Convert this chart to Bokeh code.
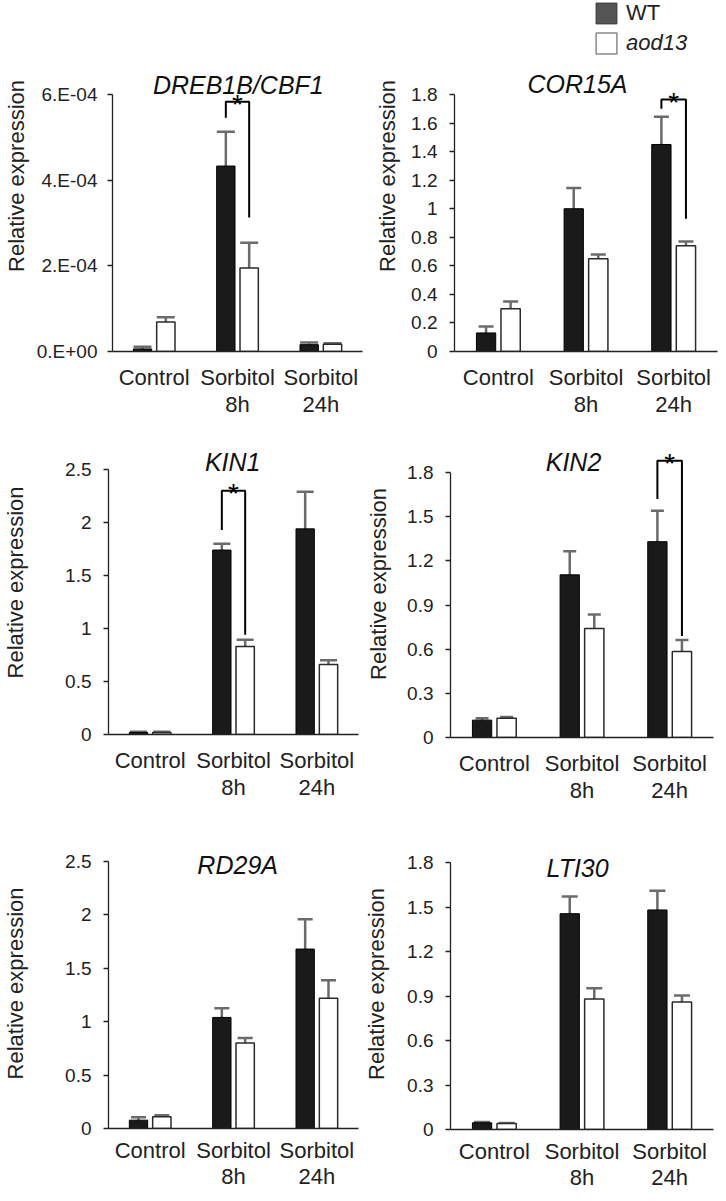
from bokeh.plotting import figure
from bokeh.models import (FactorRange, Range1d, FixedTicker, Whisker, TeeHead,
                          Legend, LegendItem, ColumnDataSource)
from bokeh.transform import dodge
from bokeh.layouts import column, row
from bokeh.core.properties import value
from bokeh.embed import file_html
from bokeh.resources import INLINE

# ---------------- data ----------------
categories = ["Control", "Sorbitol\n8h", "Sorbitol\n24h"]
series_names = ["WT", "aod13"]
y_title = "Relative expression"

dreb_wt = [0.06e-4, 4.33e-4, 0.16e-4]
dreb_wt_err = [0.05e-4, 0.80e-4, 0.05e-4]
dreb_aod = [0.69e-4, 1.95e-4, 0.17e-4]
dreb_aod_err = [0.11e-4, 0.59e-4, 0.02e-4]
dreb_ticks = [0.0, 2e-4, 4e-4, 6e-4]
dreb_tick_labels = ["0.E+00", "2.E-04", "4.E-04", "6.E-04"]
dreb_sig = ["Sorbitol\n8h", 5.46e-4, 5.83e-4, 3.13e-4]

cor_wt = [0.13, 1.00, 1.45]
cor_wt_err = [0.045, 0.145, 0.195]
cor_aod = [0.30, 0.65, 0.74]
cor_aod_err = [0.05, 0.03, 0.03]
cor_ticks = [0.0, 0.2, 0.4, 0.6, 0.8, 1.0, 1.2, 1.4, 1.6, 1.8]
cor_tick_labels = ["0", "0.2", "0.4", "0.6", "0.8", "1", "1.2", "1.4", "1.6", "1.8"]
cor_sig = ["Sorbitol\n24h", 1.70, 1.765, 0.93]

kin1_wt = [0.02, 1.74, 1.94]
kin1_wt_err = [0.005, 0.06, 0.35]
kin1_aod = [0.02, 0.83, 0.66]
kin1_aod_err = [0.005, 0.065, 0.04]
kin1_ticks = [0.0, 0.5, 1.0, 1.5, 2.0, 2.5]
kin1_tick_labels = ["0", "0.5", "1", "1.5", "2", "2.5"]
kin1_sig = ["Sorbitol\n8h", 1.93, 2.30, 0.94]

kin2_wt = [0.118, 1.105, 1.33]
kin2_wt_err = [0.012, 0.16, 0.21]
kin2_aod = [0.13, 0.74, 0.585]
kin2_aod_err = [0.01, 0.095, 0.078]
kin2_ticks = [0.0, 0.3, 0.6, 0.9, 1.2, 1.5, 1.8]
kin2_tick_labels = ["0", "0.3", "0.6", "0.9", "1.2", "1.5", "1.8"]
kin2_sig = ["Sorbitol\n24h", 1.62, 1.88, 0.69]

rd_wt = [0.078, 1.04, 1.68]
rd_wt_err = [0.028, 0.087, 0.28]
rd_aod = [0.109, 0.80, 1.22]
rd_aod_err = [0.016, 0.047, 0.168]
rd_ticks = [0.0, 0.5, 1.0, 1.5, 2.0, 2.5]
rd_tick_labels = ["0", "0.5", "1", "1.5", "2", "2.5"]

lti_wt = [0.045, 1.455, 1.48]
lti_wt_err = [0.005, 0.115, 0.13]
lti_aod = [0.04, 0.88, 0.86]
lti_aod_err = [0.004, 0.073, 0.043]
lti_ticks = [0.0, 0.3, 0.6, 0.9, 1.2, 1.5, 1.8]
lti_tick_labels = ["0", "0.3", "0.6", "0.9", "1.2", "1.5", "1.8"]

# ---------------- style ----------------
FONT = "Liberation Sans"
INK = "#222222"
ERR = "#6b6b6b"
WT_FILL = "#1a1a1a"
OFF = 0.14
BAR_W = 0.22
NAN = float("nan")

panels = [
    dict(title="DREB1B/CBF1", wt=dreb_wt, wt_err=dreb_wt_err, aod=dreb_aod, aod_err=dreb_aod_err,
         ticks=dreb_ticks, labels=dreb_tick_labels, sig=dreb_sig,
         bl=104, fw=250, br=1, fh=351, bb=79, top_off=94, cap=18, tdx=0.01, tdy=10, ts=10, ls=5,
         xs=13, xlh=1.1),
    dict(title="COR15A", wt=cor_wt, wt_err=cor_wt_err, aod=cor_aod, aod_err=cor_aod_err,
         ticks=cor_ticks, labels=cor_tick_labels, sig=cor_sig,
         bl=91, fw=263, br=1, fh=351, bb=79, top_off=94, cap=15, tdx=-0.097, tdy=11, ts=12, ls=8,
         xs=13, xlh=1.1),
    dict(title="KIN1", wt=kin1_wt, wt_err=kin1_wt_err, aod=kin1_aod, aod_err=kin1_aod_err,
         ticks=kin1_ticks, labels=kin1_tick_labels, sig=kin1_sig,
         bl=104, fw=250, br=1, fh=304, bb=104, top_off=39, cap=17, tdx=-0.01, tdy=8, ts=12, ls=34,
         xs=13, xlh=1.1),
    dict(title="KIN2", wt=kin2_wt, wt_err=kin2_wt_err, aod=kin2_aod, aod_err=kin2_aod_err,
         ticks=kin2_ticks, labels=kin2_tick_labels, sig=kin2_sig,
         bl=91, fw=263, br=1, fh=307, bb=101, top_off=42, cap=13, tdx=-0.097, tdy=11, ts=12, ls=13,
         xs=13, xlh=1.1),
    dict(title="RD29A", wt=rd_wt, wt_err=rd_wt_err, aod=rd_aod, aod_err=rd_aod_err,
         ticks=rd_ticks, labels=rd_tick_labels, sig=None,
         bl=104, fw=250, br=1, fh=290, bb=57, top_off=23, cap=15, tdx=0.05, tdy=-3, ts=12, ls=34,
         xs=9, xlh=1.05),
    dict(title="LTI30", wt=lti_wt, wt_err=lti_wt_err, aod=lti_aod, aod_err=lti_aod_err,
         ticks=lti_ticks, labels=lti_tick_labels, sig=None,
         bl=91, fw=263, br=1, fh=291, bb=56, top_off=24, cap=16, tdx=-0.05, tdy=-5, ts=12, ls=15,
         xs=9, xlh=1.05),
]


def make_panel(cfg, with_legend=False):
    top = cfg["ticks"][-1]
    y_end = top * cfg["fh"] / (cfg["fh"] - cfg["top_off"])
    p = figure(x_range=FactorRange(factors=categories, range_padding=0, factor_padding=0),
               y_range=Range1d(0, y_end),
               frame_width=cfg["fw"], frame_height=cfg["fh"],
               min_border_left=cfg["bl"], min_border_right=cfg["br"],
               min_border_top=0, min_border_bottom=cfg["bb"],
               title=None, output_backend="svg", toolbar_location=None, tools="")
    p.xgrid.visible = False
    p.ygrid.visible = False
    p.outline_line_color = None
    p.background_fill_color = "white"
    p.border_fill_color = "white"

    src = ColumnDataSource(dict(
        cat=categories,
        wt=cfg["wt"], aod=cfg["aod"],
        wt_up=[v + e for v, e in zip(cfg["wt"], cfg["wt_err"])],
        wt_lo=[v - e for v, e in zip(cfg["wt"], cfg["wt_err"])],
        aod_up=[v + e for v, e in zip(cfg["aod"], cfg["aod_err"])],
        aod_lo=[v - e for v, e in zip(cfg["aod"], cfg["aod_err"])],
    ))
    p.vbar(x=dodge("cat", -OFF, range=p.x_range), top="wt", width=BAR_W, source=src,
           fill_color=WT_FILL, line_color="#000000", line_width=1)
    p.vbar(x=dodge("cat", OFF, range=p.x_range), top="aod", width=BAR_W, source=src,
           fill_color="white", line_color="#2a2a2a", line_width=1.5)

    for off, up, lo in [(-OFF, "wt_up", "wt_lo"), (OFF, "aod_up", "aod_lo")]:
        w = Whisker(base=dodge("cat", off, range=p.x_range), upper=up, lower=lo, source=src,
                    line_color=ERR, line_width=2.5,
                    upper_head=TeeHead(size=cfg["cap"], line_color=ERR, line_width=2.5),
                    lower_head=TeeHead(size=cfg["cap"], line_color=ERR, line_width=2.5))
        p.add_layout(w)

    sig = cfg["sig"]
    if sig is not None:
        c, lb, tp, rb = sig
        p.line(x=[(c, -OFF), (c, -OFF), (c, OFF), (c, OFF)], y=[lb, tp, tp, rb],
               line_color="black", line_width=2)
        p.text(x=[c], y=[tp], text=["*"], text_font=value(FONT), text_font_size="28px",
               text_align="center", text_baseline="alphabetic", y_offset=3, text_color="black")

    p.text(x=[(categories[1], cfg["tdx"])], y=[top], text=[cfg["title"]], text_font=value(FONT),
           text_font_size="25px", text_font_style="italic", text_align="center",
           text_baseline="middle", y_offset=-cfg["tdy"], text_color="#111111")

    ya = p.yaxis[0]
    ya.ticker = FixedTicker(ticks=cfg["ticks"])
    ya.major_label_overrides = dict(zip(cfg["ticks"], cfg["labels"]))
    ya.bounds = (0, top)
    ya.minor_tick_line_color = None
    ya.major_tick_in = 0
    ya.major_tick_out = 5
    ya.major_tick_line_color = INK
    ya.major_tick_line_width = 1.3
    ya.axis_line_color = INK
    ya.axis_line_width = 1.3
    ya.major_label_text_font = FONT
    ya.major_label_text_font_size = "19px"
    ya.major_label_text_color = INK
    ya.major_label_standoff = cfg["ts"]
    ya.axis_label = y_title
    ya.axis_label_text_font = FONT
    ya.axis_label_text_font_size = "22px"
    ya.axis_label_text_font_style = "normal"
    ya.axis_label_text_color = INK
    ya.axis_label_standoff = cfg["ls"]

    xa = p.xaxis[0]
    xa.major_tick_in = 0
    xa.major_tick_out = 0
    xa.minor_tick_line_color = None
    xa.axis_line_color = INK
    xa.axis_line_width = 1.5
    xa.major_label_text_font = FONT
    xa.major_label_text_font_size = "22px"
    xa.major_label_text_color = INK
    xa.major_label_text_line_height = cfg["xlh"]
    xa.major_label_standoff = cfg["xs"]

    if with_legend:
        r_wt = p.quad(left=[NAN], right=[NAN], top=[NAN], bottom=[NAN],
                      fill_color="#555555", line_color="#333333", line_width=1)
        r_aod = p.quad(left=[NAN], right=[NAN], top=[NAN], bottom=[NAN],
                       fill_color="white", line_color="#8a8a8a", line_width=1.5)
        common = dict(background_fill_alpha=0, border_line_alpha=0, padding=0, margin=0, spacing=0,
                      glyph_width=26, glyph_height=26, label_standoff=7, label_height=26,
                      label_text_font=FONT, label_text_font_size="22px", label_text_color=INK)
        fh = cfg["fh"]
        leg1 = Legend(items=[LegendItem(label=series_names[0], renderers=[r_wt])],
                      location=(139, fh - 26), **common)
        leg2 = Legend(items=[LegendItem(label=series_names[1], renderers=[r_aod])],
                      location=(139, fh - 56), label_text_font_style="italic", **common)
        p.add_layout(leg1)
        p.add_layout(leg2)
    return p


figs = [make_panel(cfg, with_legend=(i == 1)) for i, cfg in enumerate(panels)]
layout = column(row(figs[0], figs[1]), row(figs[2], figs[3]), row(figs[4], figs[5]))

open("out.html", "w").write(file_html(layout, INLINE))
